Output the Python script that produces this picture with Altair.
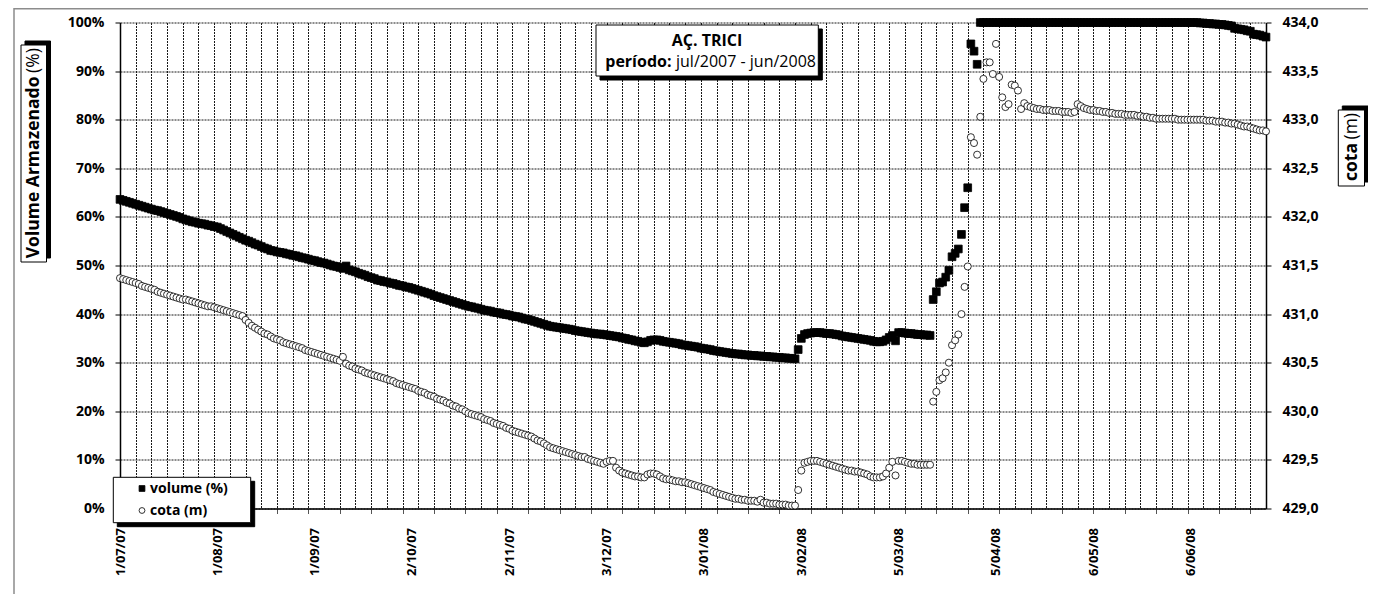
import altair as alt
import pandas as pd

# ---------------- data ----------------
# day index = days since 1/07/2007 (daily readings)
dias = list(range(366))

volume = [
    63.6, 63.4, 63.2, 63.0, 62.8, 62.6, 62.4, 62.2, 62.0, 61.8,
    61.6, 61.4, 61.3, 61.1, 60.9, 60.7, 60.5, 60.3, 60.1, 59.9,
    59.6, 59.4, 59.2, 59.0, 58.9, 58.7, 58.6, 58.5, 58.3, 58.2,
    58.0, 57.9, 57.6, 57.3, 57.0, 56.7, 56.4, 56.1, 55.8, 55.5,
    55.2, 55.0, 54.7, 54.4, 54.2, 53.9, 53.6, 53.4, 53.1, 53.0,
    52.8, 52.7, 52.6, 52.4, 52.3, 52.1, 52.0, 51.8, 51.6, 51.5,
    51.3, 51.1, 51.0, 50.8, 50.6, 50.5, 50.3, 50.1, 49.9, 49.8,
    49.6, 49.4, 49.9, 49.1, 48.9, 48.7, 48.4, 48.2, 48.0, 47.7,
    47.5, 47.3, 47.0, 46.9, 46.7, 46.6, 46.4, 46.3, 46.1, 45.9,
    45.8, 45.6, 45.5, 45.3, 45.1, 44.9, 44.7, 44.5, 44.3, 44.1,
    43.8, 43.6, 43.4, 43.2, 43.0, 42.8, 42.6, 42.4, 42.2, 42.0,
    41.8, 41.6, 41.5, 41.3, 41.2, 41.0, 40.8, 40.7, 40.6, 40.4,
    40.3, 40.2, 40.0, 39.9, 39.8, 39.6, 39.5, 39.4, 39.2, 39.0,
    38.9, 38.7, 38.5, 38.3, 38.1, 37.9, 37.7, 37.5, 37.4, 37.3,
    37.2, 37.1, 37.0, 36.9, 36.8, 36.6, 36.5, 36.4, 36.3, 36.2,
    36.1, 36.0, 35.9, 35.9, 35.8, 35.7, 35.6, 35.5, 35.4, 35.3,
    35.1, 35.0, 34.8, 34.7, 34.5, 34.4, 34.2, 34.1, 34.3, 34.6,
    34.7, 34.7, 34.6, 34.4, 34.3, 34.2, 34.1, 34.0, 33.9, 33.7,
    33.6, 33.5, 33.4, 33.3, 33.2, 33.0, 32.9, 32.8, 32.7, 32.5,
    32.4, 32.3, 32.2, 32.1, 32.0, 31.9, 31.8, 31.8, 31.7, 31.6,
    31.6, 31.5, 31.5, 31.4, 31.4, 31.3, 31.3, 31.2, 31.2, 31.1,
    31.1, 31.0, 31.0, 30.9, 30.9, 30.8, 32.7, 35.0, 35.8, 36.0,
    36.1, 36.2, 36.2, 36.2, 36.1, 36.0, 36.0, 35.9, 35.8, 35.7,
    35.5, 35.4, 35.3, 35.2, 35.1, 35.0, 34.9, 34.8, 34.7, 34.6,
    34.4, 34.3, 34.3, 34.4, 34.7, 35.2, 35.6, 34.5, 36.2, 36.2,
    36.1, 36.0, 36.0, 35.9, 35.8, 35.8, 35.7, 35.7, 35.6, 43.0,
    44.6, 46.4, 46.6, 47.6, 49.0, 51.8, 52.5, 53.4, 56.4, 61.9,
    66.0, 95.6, 94.1, 91.4, 100, 100, 100, 100, 100, 100,
    100, 100, 100, 100, 100, 100, 100, 100, 100, 100,
    100, 100, 100, 100, 100, 100, 100, 100, 100, 100,
    100, 100, 100, 100, 100, 100, 100, 100, 100, 100,
    100, 100, 100, 100, 100, 100, 100, 100, 100, 100,
    100, 100, 100, 100, 100, 100, 100, 100, 100, 100,
    100, 100, 100, 100, 100, 100, 100, 100, 100, 100,
    100, 100, 100, 100, 99.9, 99.9, 99.8, 99.8, 99.7, 99.7,
    99.6, 99.6, 99.5, 99.4, 99.3, 98.8, 98.7, 98.6, 98.5, 98.3,
    98.2, 97.6, 97.5, 97.4, 97.2, 97.0,
]

cota = [
    431.37, 431.36, 431.35, 431.34, 431.33, 431.32, 431.31, 431.29, 431.28, 431.27,
    431.26, 431.25, 431.23, 431.22, 431.21, 431.20, 431.19, 431.18, 431.17, 431.16,
    431.15, 431.15, 431.14, 431.13, 431.12, 431.11, 431.10, 431.09, 431.08, 431.08,
    431.07, 431.06, 431.05, 431.04, 431.03, 431.02, 431.01, 431.00, 430.99, 430.98,
    430.94, 430.91, 430.88, 430.86, 430.84, 430.82, 430.80, 430.79, 430.77, 430.75,
    430.74, 430.73, 430.71, 430.70, 430.69, 430.68, 430.67, 430.66, 430.65, 430.63,
    430.62, 430.61, 430.60, 430.59, 430.58, 430.57, 430.56, 430.55, 430.54, 430.53,
    430.52, 430.56, 430.49, 430.47, 430.46, 430.44, 430.43, 430.42, 430.40, 430.39,
    430.38, 430.37, 430.36, 430.35, 430.34, 430.33, 430.32, 430.31, 430.29, 430.28,
    430.27, 430.26, 430.25, 430.24, 430.23, 430.21, 430.20, 430.19, 430.17, 430.16,
    430.15, 430.13, 430.12, 430.11, 430.09, 430.08, 430.06, 430.05, 430.03, 430.02,
    430.00, 429.98, 429.97, 429.96, 429.95, 429.94, 429.92, 429.91, 429.90, 429.88,
    429.87, 429.86, 429.85, 429.83, 429.82, 429.80, 429.79, 429.78, 429.77, 429.76,
    429.75, 429.74, 429.72, 429.70, 429.69, 429.67, 429.65, 429.63, 429.62, 429.61,
    429.60, 429.59, 429.58, 429.57, 429.56, 429.55, 429.54, 429.53, 429.53, 429.51,
    429.50, 429.49, 429.48, 429.47, 429.46, 429.48, 429.49, 429.49, 429.42, 429.39,
    429.37, 429.36, 429.35, 429.34, 429.33, 429.33, 429.32, 429.32, 429.35, 429.36,
    429.36, 429.35, 429.33, 429.31, 429.30, 429.30, 429.29, 429.28, 429.28, 429.27,
    429.27, 429.26, 429.25, 429.24, 429.23, 429.22, 429.21, 429.20, 429.19, 429.17,
    429.16, 429.15, 429.14, 429.13, 429.12, 429.11, 429.10, 429.10, 429.09, 429.09,
    429.08, 429.08, 429.08, 429.07, 429.09, 429.06, 429.06, 429.05, 429.05, 429.05,
    429.04, 429.04, 429.04, 429.03, 429.03, 429.03, 429.19, 429.39, 429.47, 429.48,
    429.49, 429.49, 429.49, 429.48, 429.47, 429.46, 429.45, 429.44, 429.43, 429.42,
    429.41, 429.40, 429.39, 429.39, 429.38, 429.38, 429.37, 429.36, 429.35, 429.33,
    429.32, 429.32, 429.32, 429.33, 429.36, 429.42, 429.48, 429.34, 429.49, 429.49,
    429.48, 429.47, 429.46, 429.46, 429.45, 429.45, 429.45, 429.45, 429.45, 430.10,
    430.20, 430.32, 430.34, 430.40, 430.50, 430.68, 430.73, 430.79, 431.00, 431.28,
    431.49, 432.82, 432.76, 432.64, 433.03, 433.42, 433.59, 433.59, 433.47, 433.78,
    433.44, 433.23, 433.13, 433.16, 433.36, 433.35, 433.30, 433.11, 433.17, 433.14,
    433.13, 433.12, 433.11, 433.11, 433.10, 433.10, 433.10, 433.09, 433.09, 433.09,
    433.08, 433.08, 433.08, 433.07, 433.08, 433.16, 433.14, 433.12, 433.11, 433.10,
    433.10, 433.09, 433.09, 433.08, 433.08, 433.07, 433.07, 433.06, 433.06, 433.06,
    433.05, 433.05, 433.05, 433.05, 433.04, 433.04, 433.03, 433.03, 433.02, 433.02,
    433.01, 433.01, 433.01, 433.01, 433.01, 433.01, 433.01, 433.00, 433.00, 433.00,
    433.00, 433.00, 433.00, 433.00, 433.00, 433.00, 432.99, 432.99, 432.99, 432.98,
    432.98, 432.98, 432.97, 432.97, 432.96, 432.96, 432.95, 432.94, 432.93, 432.93,
    432.92, 432.91, 432.90, 432.89, 432.89, 432.88,
]

# x axis: date labels every 31 days, ticks every 10 days, grid every 5 days
label_days = [0, 31, 62, 93, 124, 155, 186, 217, 248, 279, 310, 341]
tick_labels = ["1/07/07", "1/08/07", "1/09/07", "2/10/07", "2/11/07", "3/12/07",
               "3/01/08", "3/02/08", "5/03/08", "5/04/08", "6/05/08", "6/06/08"]
grid_days = list(range(0, 366, 5))

pct_ticks = [0, 10, 20, 30, 40, 50, 60, 70, 80, 90, 100]
cota_ticks = [429.0, 429.5, 430.0, 430.5, 431.0, 431.5, 432.0, 432.5, 433.0, 433.5, 434.0]

series_names = ["volume (%)", "cota (m)"]

titulo = "AÇ. TRICI"
periodo_rot = "período:"
periodo_txt = "jul/2007 - jun/2008"
eixo_esq_bold = "Volume Armazenado"
eixo_esq_norm = "(%)"
eixo_dir_bold = "cota"
eixo_dir_norm = "(m)"

FONT = "Open Sans"

# ---------------- layout (page pixels -> plot-relative) ----------------
OX, OY = 120, 22.5
W, H = 1146, 486


def px(x):
    return x - OX


def py(y):
    return y - OY


vol_df = pd.DataFrame({"dia": dias, "volume": volume})
cota_df = pd.DataFrame({"dia": dias, "cota": cota})

x_values = sorted(set(grid_days + label_days))
days_js = ",".join(str(d) for d in label_days)
labels_js = ",".join("'" + t + "'" for t in tick_labels)
label_expr = (f"indexof([{days_js}], datum.value) >= 0 ? "
              f"[{labels_js}][indexof([{days_js}], datum.value)] : ''")

x_enc = alt.X(
    "dia:Q",
    scale=alt.Scale(domain=[0, 365], nice=False, zero=False),
    axis=alt.Axis(
        values=x_values, labelExpr=label_expr, labelAngle=270,
        labelFont=FONT, labelFontSize=13, labelFontWeight="bold", labelColor="black",
        labelPadding=14, labelOverlap=False,
        tickSize=5, tickColor="#555555", tickWidth=1,
        tickOpacity={"condition": {"test": "datum.value % 10 === 0", "value": 1}, "value": 0},
        grid=True, gridColor="#1a1a1a", gridDash=[2, 1], gridWidth=1,
        gridOpacity={"condition": {"test": "datum.value % 5 === 0", "value": 1}, "value": 0},
        domainColor="black", domainWidth=1.5, title=None,
    ),
)

legend = alt.Legend(
    orient="none", legendX=15, legendY=459, title=None,
    labelFont=FONT, labelFontSize=14, labelFontWeight="bold", labelColor="black",
    symbolSize=34, symbolStrokeColor="black", symbolStrokeWidth=0.8,
    rowPadding=8, labelOffset=1, padding=0,
)
shape_enc = alt.Shape("serie:N", scale=alt.Scale(domain=series_names, range=["square", "circle"]), legend=legend)
fill_enc = alt.Fill("serie:N", scale=alt.Scale(domain=series_names, range=["black", "white"]), legend=legend)
stroke_enc = alt.Stroke("serie:N", scale=alt.Scale(domain=series_names, range=["black", "black"]), legend=legend)

vol_layer = alt.Chart(vol_df).transform_calculate(serie="'volume (%)'").mark_point(
    filled=True, strokeWidth=0.8, size=60, opacity=1
).encode(
    x=x_enc,
    y=alt.Y("volume:Q", scale=alt.Scale(domain=[0, 100], nice=False),
            axis=alt.Axis(values=pct_ticks, labelExpr="datum.value + '%'",
                          labelFont=FONT, labelFontSize=14, labelFontWeight="bold",
                          labelColor="black", labelPadding=11, tickSize=5, tickColor="black",
                          grid=True, gridColor="#1a1a1a", gridDash=[2, 1], gridWidth=1,
                          domainColor="black", domainWidth=1.5, title=None)),
    shape=shape_enc, fill=fill_enc, stroke=stroke_enc,
)

cota_layer = alt.Chart(cota_df).transform_calculate(serie="'cota (m)'").mark_point(
    filled=True, strokeWidth=0.8, size=50, opacity=1
).encode(
    x=x_enc,
    y=alt.Y("cota:Q", scale=alt.Scale(domain=[429, 434], nice=False, zero=False),
            axis=alt.Axis(orient="right", values=cota_ticks,
                          labelExpr="replace(format(datum.value, '.1f'), '.', ',')",
                          labelFont=FONT, labelFontSize=14, labelFontWeight="bold",
                          labelColor="black", labelPadding=11, tickSize=5, tickColor="black",
                          grid=False, domainColor="black", domainWidth=1.5, title=None)),
    shape=shape_enc, fill=fill_enc, stroke=stroke_enc,
)

one = pd.DataFrame({"k": [0]})


def box(x1, y1, x2, y2, fill, stroke="black", sw=1.0):
    return alt.Chart(one).mark_rect(fill=fill, stroke=stroke, strokeWidth=sw).encode(
        x=alt.value(px(x1)), x2=alt.value(px(x2)), y=alt.value(py(y1)), y2=alt.value(py(y2)))


def texto(t, x, y, size, weight, align, angle=0, baseline="alphabetic"):
    return alt.Chart(pd.DataFrame({"t": [t]})).mark_text(
        font=FONT, fontSize=size, fontWeight=weight, align=align, baseline=baseline,
        angle=angle, color="black"
    ).encode(text="t:N", x=alt.value(px(x)), y=alt.value(py(y)))


frame = alt.Chart(one).mark_rect(fill="transparent", stroke="#8c8c8c", strokeWidth=1.5).encode(
    x=alt.value(px(14)), x2=alt.value(px(1420)), y=alt.value(py(8.8)), y2=alt.value(py(700)))

decor = [
    # title box
    box(600, 29, 822.3, 80, "black", "black"),
    box(596, 25, 818.3, 76, "white"),
    texto(titulo, 707, 46, 16, "bold", "center"),
    texto(periodo_rot, 671.5, 66.5, 16, "bold", "right"),
    texto(periodo_txt, 676, 66.5, 16, "normal", "left"),
    # legend box
    box(117.3, 481.3, 254.7, 526.7, "black", "black"),
    box(113.3, 477.3, 250.7, 522.7, "white"),
    # left axis title
    box(25, 41, 50.5, 258, "black", "black"),
    box(21, 45, 46.5, 262, "white"),
    texto(eixo_esq_bold, 34, 76.5, 17.5, "bold", "right", 270, "middle"),
    texto(eixo_esq_norm, 34, 73, 17.5, "normal", "left", 270, "middle"),
    # right axis title
    box(1342.3, 106, 1368.5, 182, "black", "black"),
    box(1338.3, 110, 1364.5, 186, "white"),
    texto(eixo_dir_bold, 1352, 143, 17.5, "bold", "right", 270, "middle"),
    texto(eixo_dir_norm, 1352, 139.5, 17.5, "normal", "left", 270, "middle"),
]

chart = alt.layer(frame, vol_layer, cota_layer, *decor).resolve_scale(
    y="independent"
).properties(
    width=W, height=H,
    autosize=alt.AutoSizeParams(type="none"),
    padding={"left": 112, "top": 14.5, "right": 102, "bottom": 85.5},
    background="white",
).configure_view(stroke="transparent")

chart.save("out.html", embed_options={"renderer": "svg", "actions": False})
